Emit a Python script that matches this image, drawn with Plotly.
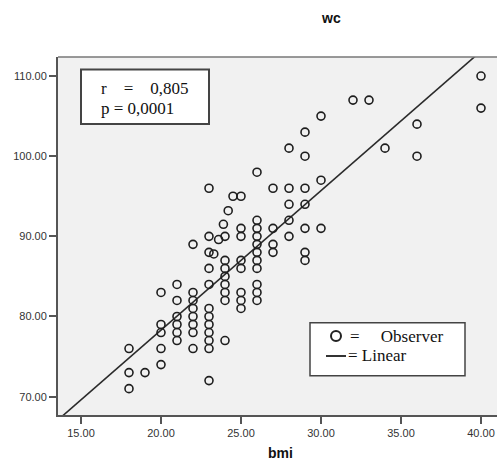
import numpy as np
import plotly.graph_objects as go

bmi = ([18]*3 + [19] + [20]*5 + [21]*6 + [22]*8 + [23]*12 + [23.3, 23.6, 23.9] +
       [24]*8 + [24.2, 24.5] + [25]*8 + [26]*11 + [27]*4 + [28]*5 + [29]*7 +
       [30]*3 + [32, 33, 34] + [36]*2 + [40]*2)
wc = ([76, 73, 71] + [73] + [83, 79, 78, 76, 74] + [84, 82, 80, 79, 78, 77] +
      [89, 83, 82, 81, 80, 79, 78, 76] +
      [96, 90, 88, 86, 84, 81, 80, 79, 78, 77, 76, 72] + [87.8, 89.6, 91.5] +
      [90, 87, 86, 85, 84, 83, 82, 77] + [93.2, 95] +
      [95, 91, 90, 87, 86, 83, 82, 81] +
      [98, 92, 91, 90, 89, 88, 87, 86, 84, 83, 82] +
      [96, 91, 89, 88] + [101, 96, 94, 92, 90] + [103, 100, 96, 94, 91, 88, 87] +
      [105, 97, 91] + [107, 107, 101] + [104, 100] + [110, 106])

x_ticks = [15, 20, 25, 30, 35, 40]
y_ticks = [70, 80, 90, 100, 110]
x_range = [13.5625, 41.0]
y_range = [67.71, 112.375]

slope, intercept = np.polyfit(np.array(bmi, float), np.array(wc, float), 1)
line_x = np.array(x_range)
line_y = intercept + slope * line_x

W, H = 497, 467
L, R, T, B = 58, 0, 57, 52
pw, ph = W - L - R, H - T - B


def px(x):
    return (x - L) / pw


def py(y):
    return (H - B - y) / ph


fig = go.Figure()
fig.add_trace(go.Scatter(x=line_x, y=line_y, mode="lines",
                         line=dict(color="#2b2b2b", width=1.6),
                         hoverinfo="skip", showlegend=False, cliponaxis=True))
fig.add_trace(go.Scatter(x=bmi, y=wc, mode="markers",
                         marker=dict(symbol="circle-open", size=8,
                                     color="#1e1e1e", line=dict(width=1.6, color="#1e1e1e")),
                         showlegend=False))

serif = "Liberation Serif, Times New Roman, serif"
shapes = [
    # r/p box
    dict(type="rect", xref="paper", yref="paper", x0=px(81), x1=px(209),
         y0=py(124), y1=py(69.5), line=dict(color="#444", width=2), fillcolor="white", layer="above"),
    # legend box
    dict(type="rect", xref="paper", yref="paper", x0=px(310), x1=px(465),
         y0=py(375.7), y1=py(322.7), line=dict(color="#444", width=1.5), fillcolor="white", layer="above"),
    dict(type="circle", xref="paper", yref="paper", x0=px(331), x1=px(341),
         y0=py(341), y1=py(331), line=dict(color="#222", width=2), fillcolor="white", layer="above"),
    dict(type="line", xref="paper", yref="paper", x0=px(326), x1=px(346),
         y0=py(356), y1=py(356), line=dict(color="#333", width=2), layer="above"),
    # top border
    dict(type="line", xref="paper", yref="paper", x0=0, x1=1, y0=1, y1=1,
         line=dict(color="#777", width=1.5)),
]

nb = "\u00a0"
annotations = [
    dict(text=f"r{nb*4}={nb*4}0,805", xref="paper", yref="paper", x=px(99), y=py(88),
         xanchor="left", yanchor="middle", showarrow=False,
         font=dict(family=serif, size=17, color="#111")),
    dict(text="p = 0,0001", xref="paper", yref="paper", x=px(99), y=py(108),
         xanchor="left", yanchor="middle", showarrow=False,
         font=dict(family=serif, size=17, color="#111")),
    dict(text=f"={nb*5}Observer", xref="paper", yref="paper", x=px(348), y=py(336),
         xanchor="left", yanchor="middle", showarrow=False,
         font=dict(family=serif, size=17, color="#111")),
    dict(text="= Linear", xref="paper", yref="paper", x=px(346), y=py(355),
         xanchor="left", yanchor="middle", showarrow=False,
         font=dict(family=serif, size=17, color="#111")),
    dict(text="<b>wc</b>", xref="paper", yref="paper", x=px(331), y=py(18),
         xanchor="center", yanchor="middle", showarrow=False,
         font=dict(family="Liberation Sans, Arial", size=14, color="#111")),
    dict(text="<b>bmi</b>", xref="paper", yref="paper", x=px(280), y=py(453),
         xanchor="center", yanchor="middle", showarrow=False,
         font=dict(family="Liberation Sans, Arial", size=14, color="#111")),
]

axis_common = dict(showgrid=False, zeroline=False, showline=True, linecolor="#555",
                   linewidth=2, ticks="outside", ticklen=7, tickwidth=2, tickcolor="#555",
                   tickformat=".2f",
                   tickfont=dict(family="Liberation Sans, Arial", size=11, color="#333"))

fig.update_layout(
    width=W, height=H, margin=dict(l=L, r=R, t=T, b=B, pad=0),
    paper_bgcolor="white", plot_bgcolor="#f1f1f1",
    xaxis=dict(range=x_range, tickvals=x_ticks, **axis_common),
    yaxis=dict(range=y_range, tickvals=y_ticks, **axis_common),
    shapes=shapes, annotations=annotations, showlegend=False,
)

fig.write_html("out.html")
